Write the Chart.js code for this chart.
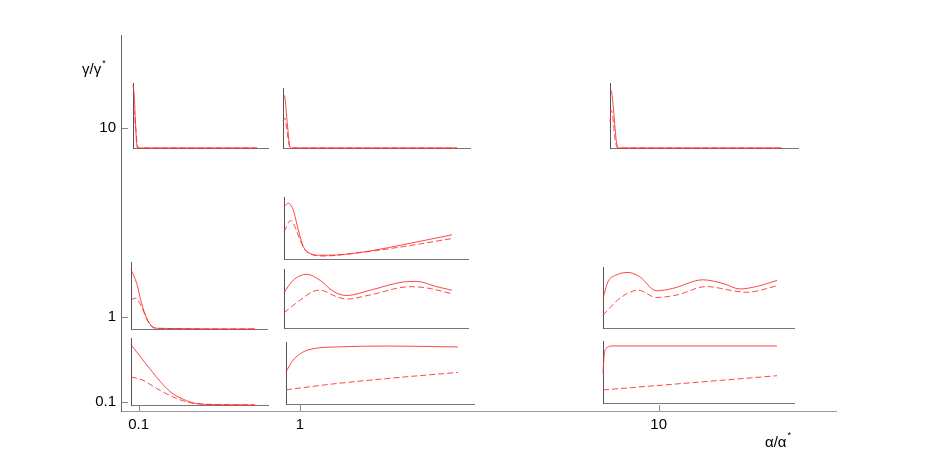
<!DOCTYPE html>
<html><head><meta charset="utf-8">
<script src="https://cdn.jsdelivr.net/npm/chart.js@4"></script>
<style>
html,body{margin:0;padding:0;background:#fff;}
#wrap{position:relative;width:926px;height:463px;overflow:hidden;}
#main{position:absolute;left:0;top:0;}
.inset{position:absolute;}
</style></head><body>
<div id="wrap"><canvas id="main" width="926" height="463"></canvas></div>
<script>
// ---- main axes (tick values and labels) ----
const mainTickValues = [0.1, 1, 10];
const mainTickLabels = ['0.1', '1', '10'];
const xTitle = 'α/α';
const yTitle = 'γ/γ';
const titleStar = '*';

// ---- inset curves (x: fraction along curve, y: fraction of inset height) ----
// row γ/γ*≈10
const g10a01_xs = [0, 0.01, 0.02, 0.03, 0.04, 1];
const g10a01_solid = [0.97, 0.8, 0.4, 0.05, 0, 0];
const g10a01_xd = [0, 0.01, 0.022, 0.035, 0.045, 1];
const g10a01_dash = [0.6, 0.55, 0.3, 0.04, 0, 0];

const g10a1_xs = [0, 0.01, 0.025, 0.04, 0.05, 1];
const g10a1_solid = [0.9, 0.85, 0.4, 0.02, 0, 0];
const g10a1_xd = [0, 0.01, 0.02, 0.035, 0.05, 1];
const g10a1_dash = [0.45, 0.5, 0.35, 0.05, 0, 0];

const g10a10_xs = [0, 0.008, 0.02, 0.035, 0.047, 1];
const g10a10_solid = [0.9, 0.88, 0.6, 0.15, 0, 0];
const g10a10_xd = [0, 0.006, 0.015, 0.03, 0.047, 1];
const g10a10_dash = [0.4, 0.58, 0.5, 0.12, 0, 0];

// row γ/γ*≈3
const g3a1_xs = [0, 0.026, 0.055, 0.085, 0.115, 0.155, 0.214, 0.314, 0.512, 0.708, 1.0];
const g3a1_solid = [0.84, 0.90, 0.79, 0.47, 0.2, 0.09, 0.06, 0.065, 0.13, 0.23, 0.39];
const g3a1_xd = [0, 0.04, 0.065, 0.095, 0.125, 0.174, 0.234, 0.413, 0.71, 1.0];
const g3a1_dash = [0.44, 0.62, 0.52, 0.31, 0.145, 0.065, 0.048, 0.09, 0.2, 0.33];

// row γ/γ*≈1
const g1a01_xs = [0, 0.046, 0.086, 0.127, 0.167, 0.22, 1];
const g1a01_solid = [0.89, 0.68, 0.38, 0.16, 0.045, 0.01, 0];
const g1a01_xd = [0, 0.032, 0.073, 0.113, 0.153, 0.207, 1];
const g1a01_dash = [0.43, 0.46, 0.38, 0.21, 0.06, 0.01, 0];

const g1a1_xs = [0, 0.055, 0.135, 0.214, 0.294, 0.373, 0.512, 0.71, 0.79, 0.909, 1.0];
const g1a1_solid = [0.60, 0.81, 0.91, 0.81, 0.62, 0.55, 0.64, 0.78, 0.79, 0.70, 0.64];
const g1a1_xd = [0, 0.095, 0.174, 0.214, 0.314, 0.373, 0.512, 0.75, 0.849, 1.0];
const g1a1_dash = [0.26, 0.47, 0.62, 0.64, 0.53, 0.49, 0.56, 0.70, 0.68, 0.58];

const g1a10_xs = [0, 0.029, 0.077, 0.144, 0.211, 0.307, 0.402, 0.574, 0.69, 0.787, 0.882, 1.0];
const g1a10_solid = [0.49, 0.76, 0.87, 0.91, 0.84, 0.61, 0.65, 0.79, 0.73, 0.64, 0.68, 0.78];
const g1a10_xd = [0, 0.098, 0.203, 0.307, 0.422, 0.596, 0.73, 0.826, 1.0];
const g1a10_dash = [0.21, 0.49, 0.62, 0.50, 0.54, 0.68, 0.62, 0.585, 0.69];

// row γ/γ*≈0.3
const g03a01_xs = [0, 0.097, 0.204, 0.315, 0.422, 0.53, 0.69, 1];
const g03a01_solid = [0.90, 0.67, 0.42, 0.2, 0.085, 0.02, 0.005, 0];
const g03a01_xd = [0, 0.097, 0.204, 0.339, 0.473, 0.635, 1];
const g03a01_dash = [0.42, 0.37, 0.25, 0.12, 0.035, 0.01, 0];

const g03a1_xs = [0, 0.042, 0.1, 0.178, 0.294, 0.585, 1];
const g03a1_solid = [0.52, 0.71, 0.84, 0.90, 0.92, 0.935, 0.92];
const g03a1_xd = [0, 0.294, 0.585, 1];
const g03a1_dash = [0.23, 0.33, 0.41, 0.51];

const g03a10_xs = [0, 0.008, 0.023, 0.052, 1];
const g03a10_solid = [0.48, 0.80, 0.89, 0.92, 0.92];
const g03a10_xd = [0, 1];
const g03a10_dash = [0.21, 0.44];

// ---- layout of the inset panels (pixel boxes) ----
const insetLayout = [
  {box: [133, 83, 268, 148, 257], xs: g10a01_xs, ys: g10a01_solid, xd: g10a01_xd, yd: g10a01_dash},
  {box: [283, 88, 470, 148, 457], xs: g10a1_xs, ys: g10a1_solid, xd: g10a1_xd, yd: g10a1_dash},
  {box: [610, 83, 798, 148, 782], xs: g10a10_xs, ys: g10a10_solid, xd: g10a10_xd, yd: g10a10_dash},
  {box: [284, 197, 468, 259, 452], xs: g3a1_xs, ys: g3a1_solid, xd: g3a1_xd, yd: g3a1_dash},
  {box: [131, 262, 267, 329, 255], xs: g1a01_xs, ys: g1a01_solid, xd: g1a01_xd, yd: g1a01_dash},
  {box: [284, 269, 468, 328, 452], xs: g1a1_xs, ys: g1a1_solid, xd: g1a1_xd, yd: g1a1_dash},
  {box: [603, 267, 794, 328, 777], xs: g1a10_xs, ys: g1a10_solid, xd: g1a10_xd, yd: g1a10_dash},
  {box: [131, 338, 268, 405, 255], xs: g03a01_xs, ys: g03a01_solid, xd: g03a01_xd, yd: g03a01_dash},
  {box: [286, 342, 474, 404, 458], xs: g03a1_xs, ys: g03a1_solid, xd: g03a1_xd, yd: g03a1_dash},
  {box: [603, 341, 794, 403, 777], xs: g03a10_xs, ys: g03a10_solid, xd: g03a10_xd, yd: g03a10_dash}
];

const FONT = '"Liberation Sans", Arial, sans-serif';
const P = 0.347; // power-law axis transform of the main frame
const RED = 'rgba(255,40,40,0.85)';

// ---- main frame ----
const mainAxesPlugin = {
  id: 'mainAxes',
  afterDraw(chart) {
    const ctx = chart.ctx;
    const xs = chart.scales.x, ys = chart.scales.y, a = chart.chartArea;
    ctx.save();
    ctx.strokeStyle = '#888';
    ctx.lineWidth = 1;
    mainTickValues.forEach(v => {
      const px = Math.round(xs.getPixelForValue(Math.pow(v, P))) + 0.5;
      ctx.beginPath(); ctx.moveTo(px, a.bottom); ctx.lineTo(px, a.bottom - 6); ctx.stroke();
      const py = Math.round(ys.getPixelForValue(Math.pow(v, P))) + 0.5;
      ctx.beginPath(); ctx.moveTo(a.left, py); ctx.lineTo(a.left + 7, py); ctx.stroke();
    });
    ctx.fillStyle = '#000';
    ctx.textBaseline = 'alphabetic';
    ctx.font = '15px ' + FONT;
    ctx.fillText(yTitle, 82, 74);
    let w = ctx.measureText(yTitle).width;
    ctx.font = '9px ' + FONT;
    ctx.fillText(titleStar, 82 + w + 1, 66);
    ctx.font = '15px ' + FONT;
    ctx.fillText(xTitle, 765, 447);
    w = ctx.measureText(xTitle).width;
    ctx.font = '9px ' + FONT;
    ctx.fillText(titleStar, 765 + w + 1, 438);
    ctx.restore();
  }
};

function axisOpts(borderColor, fit) {
  return {
    type: 'linear',
    grid: {display: false, drawTicks: false},
    border: {display: true, color: borderColor, width: 1},
    afterBuildTicks: (scale) => { scale.ticks = mainTickValues.map(v => ({value: Math.pow(v, P)})); },
    afterFit: fit,
    ticks: {
      callback: (val, idx) => mainTickLabels[idx],
      color: '#000',
      padding: 5,
      font: {family: FONT, size: 15}
    }
  };
}

const xOpt = axisOpts('#999', s => { s.height = 52; });
xOpt.min = 0.3895; xOpt.max = 2.828;
xOpt.ticks.maxRotation = 0; xOpt.ticks.autoSkip = false;
const yOpt = axisOpts('#666', s => { s.width = 121; });
yOpt.min = 0.3916; yOpt.max = 2.825;
yOpt.ticks.autoSkip = false;

new Chart(document.getElementById('main'), {
  type: 'scatter',
  data: {datasets: []},
  options: {
    responsive: false, animation: false, devicePixelRatio: 1,
    layout: {padding: {top: 35, right: 90, bottom: 0, left: 0}},
    plugins: {legend: {display: false}, tooltip: {enabled: false}},
    scales: {x: xOpt, y: yOpt}
  },
  plugins: [mainAxesPlugin]
});

// ---- inset panels ----
const wrap = document.getElementById('wrap');
insetLayout.forEach(item => {
  const [l, t, r, b, lineEnd] = item.box;
  const pad = 2;
  const W = r - l + 2 * pad, H = b - t + 2 * pad;
  const div = document.createElement('div');
  div.className = 'inset';
  div.style.left = (l - pad) + 'px';
  div.style.top = (t - pad) + 'px';
  div.style.width = W + 'px';
  div.style.height = H + 'px';
  const cv = document.createElement('canvas');
  cv.width = W; cv.height = H;
  div.appendChild(cv);
  wrap.appendChild(div);
  const ds = (xarr, yarr, dashed) => ({
    data: xarr.map((x, i) => ({x: x, y: yarr[i]})),
    borderColor: RED, borderWidth: 1, borderDash: dashed ? [6, 3] : [],
    pointRadius: 0, fill: false, cubicInterpolationMode: 'monotone', showLine: true
  });
  const axis = (max, col) => ({
    type: 'linear', min: 0, max: max,
    grid: {display: false, drawTicks: false},
    ticks: {display: false},
    border: {display: true, color: col, width: 1}
  });
  new Chart(cv, {
    type: 'scatter',
    data: {datasets: [ds(item.xd, item.yd, true), ds(item.xs, item.ys, false)]},
    options: {
      responsive: false, animation: false, devicePixelRatio: 1,
      layout: {padding: pad},
      clip: false,
      plugins: {legend: {display: false}, tooltip: {enabled: false}},
      scales: {x: axis((r - l) / (lineEnd - l), '#777'), y: axis(1, '#555')}
    }
  });
});
</script>
</body></html>
